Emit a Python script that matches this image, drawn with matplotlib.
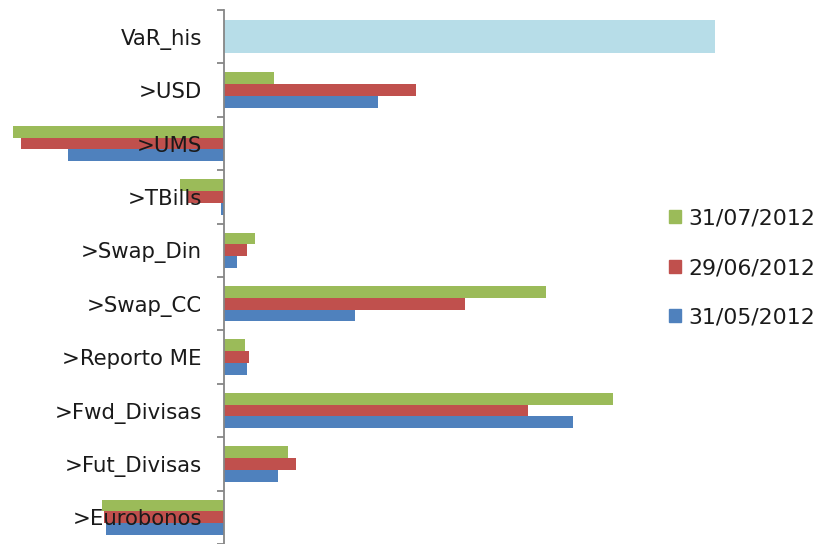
import matplotlib.pyplot as plt
import numpy as np
from matplotlib.patches import Patch

# categorias (de arriba hacia abajo)
categorias = ['VaR_his', '>USD', '>UMS', '>TBills', '>Swap_Din', '>Swap_CC',
              '>Reporto ME', '>Fwd_Divisas', '>Fut_Divisas', '>Eurobonos']

# valores (unidades arbitrarias)
var_his = 491
jul_2012 = [None, 50, -211, -44, 31, 322, 21, 389, 64, -122]
jun_2012 = [None, 192, -203, -36, 23, 241, 25, 304, 72, -120]
may_2012 = [None, 154, -156, -3, 13, 131, 23, 349, 54, -118]

series = [('31/07/2012', jul_2012, '#9BBB59'),
          ('29/06/2012', jun_2012, '#C0504D'),
          ('31/05/2012', may_2012, '#4F81BD')]

fig = plt.figure(figsize=(8.2, 5.44), dpi=100)
ax = fig.add_axes([5 / 820, 0, 715 / 820, 534 / 544])

y = np.arange(len(categorias))
h = 0.22

# barra de VaR historico
ax.barh(y[0], var_his, height=0.62, color='#B7DDE8')

# series por fecha
for i, (nombre, vals, color) in enumerate(series):
    ys = y[1:] + (i - 1) * h
    ax.barh(ys, vals[1:], height=h, color=color, label=nombre)

ax.set_xlim(5 - 224, 720 - 224)
ax.set_ylim(len(categorias) - 0.5, -0.5)

for s in ['top', 'right', 'bottom']:
    ax.spines[s].set_visible(False)
ax.spines['left'].set_position(('data', 0))
ax.spines['left'].set_color('#868686')
ax.spines['left'].set_linewidth(1.3)

ax.set_xticks([])
ax.set_yticks(y)
ax.set_yticklabels(categorias, fontsize=15.3, color='#1a1a1a')
ax.tick_params(axis='y', which='major', length=0, pad=16)
ax.set_yticks(np.arange(-0.5, len(categorias)), minor=True)
ax.tick_params(axis='y', which='minor', length=5, width=1.3, color='#868686')

handles = [Patch(color=c, label=n) for n, _, c in series]
fig.legend(handles=handles, loc='center left', bbox_to_anchor=(669 / 820, 1 - 268 / 544),
           frameon=False, fontsize=15.8, handlelength=0.55, handleheight=0.55,
           handletextpad=0.35, labelspacing=1.35, borderpad=0, borderaxespad=0,
           labelcolor='#1a1a1a')

fig.savefig('out.png', dpi=100)
